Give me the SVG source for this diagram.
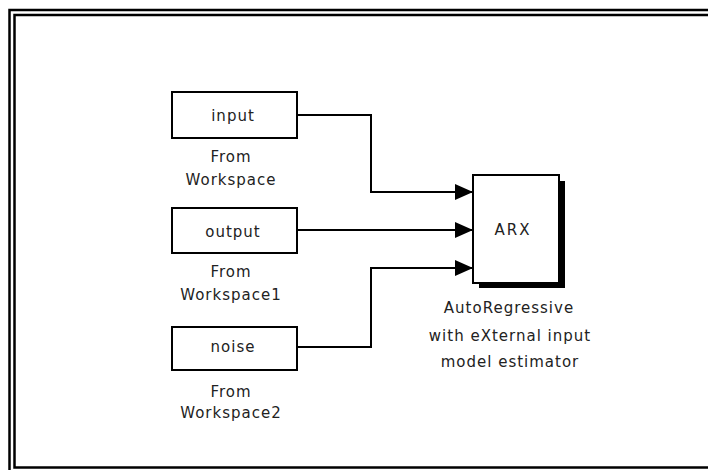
<svg xmlns="http://www.w3.org/2000/svg" width="708" height="470" viewBox="0 0 708 470">
<style>
.blk{fill:#fff;stroke:#000;stroke-width:2}
.lbl{font-family:"DejaVu Sans",sans-serif;font-size:15px;letter-spacing:1px;fill:#222;text-anchor:middle}
.wire{fill:none;stroke:#000;stroke-width:2}
</style>
<defs>
<marker id="ah" markerWidth="18" markerHeight="16" refX="18" refY="8" orient="auto" markerUnits="userSpaceOnUse">
<path d="M0,0 L18,8 L0,16 Z" fill="#000"/>
</marker>
</defs>
<rect width="708" height="470" fill="#fff"/>
<g id="frame">
<rect x="9.5" y="10" width="720" height="470" fill="none" stroke="#000" stroke-width="2.5"/>
<rect x="14.5" y="15" width="720" height="452.5" fill="none" stroke="#000" stroke-width="2.5"/>
</g>
<g id="connectors">
<path class="wire" d="M297,115 H371 V192 H473" marker-end="url(#ah)"/>
<path class="wire" d="M297,230 H473" marker-end="url(#ah)"/>
<path class="wire" d="M297,347 H371 V268 H473" marker-end="url(#ah)"/>
</g>
<g id="input">
<rect class="blk" x="172" y="92" width="125" height="46"/>
<text class="lbl" x="233" y="121">input</text>
<text class="lbl" x="231" y="162">From</text>
<text class="lbl" x="231" y="185">Workspace</text>
</g>
<g id="output">
<rect class="blk" x="172" y="208" width="125" height="45"/>
<text class="lbl" x="233" y="237">output</text>
<text class="lbl" x="231" y="277">From</text>
<text class="lbl" x="231" y="300">Workspace1</text>
</g>
<g id="noise">
<rect class="blk" x="172" y="327" width="125" height="43"/>
<text class="lbl" x="233" y="352">noise</text>
<text class="lbl" x="231" y="397">From</text>
<text class="lbl" x="231" y="418">Workspace2</text>
</g>
<g id="arx">
<rect x="479" y="181" width="86" height="107" fill="#000"/>
<rect class="blk" x="473" y="175" width="86" height="108"/>
<text class="lbl" x="513" y="235" style="letter-spacing:2px">ARX</text>
<text class="lbl" x="509" y="313">AutoRegressive</text>
<text class="lbl" x="510" y="341">with eXternal input</text>
<text class="lbl" x="510" y="367">model estimator</text>
</g>
</svg>
